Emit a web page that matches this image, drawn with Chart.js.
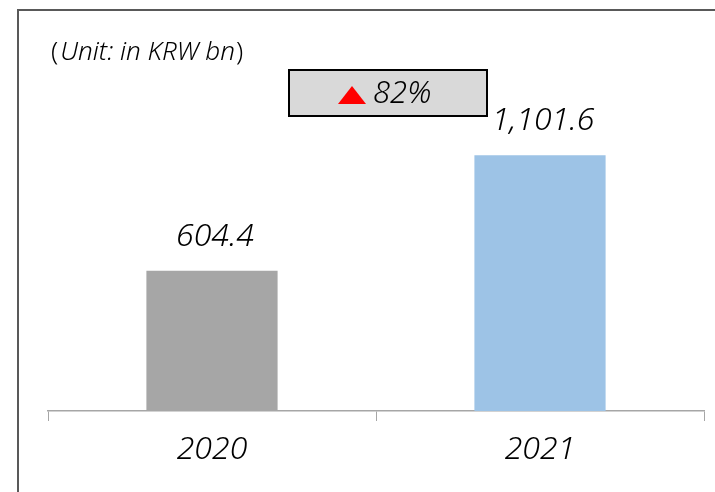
<!DOCTYPE html>
<html>
<head>
<meta charset="utf-8">
<script src="https://cdn.jsdelivr.net/npm/chart.js@4/dist/chart.umd.min.js"></script>
<style>
  body { margin: 0; background: #fff; }
  #wrap { width: 715px; height: 492px; position: relative; }
</style>
</head>
<body>
<div id="wrap"><canvas id="sales"></canvas></div>
<script>
const years = ['2020', '2021'];
const sales = [604.4, 1101.6];
const salesLabels = ['604.4', '1,101.6'];
const barColors = ['#a6a6a6', '#9dc3e6'];
const growthLabel = '82%';
const unitLabel = 'Unit: in KRW bn';

const fontFamily = "'Noto Sans', sans-serif";

// frame, unit note, growth box and value labels
const extras = {
  id: 'extras',
  afterDraw(chart) {
    const ctx = chart.ctx;
    ctx.save();

    // outer frame
    ctx.strokeStyle = '#595959';
    ctx.lineWidth = 2;
    ctx.strokeRect(18, 10, 800, 600);

    // unit note
    ctx.fillStyle = '#000';
    ctx.textBaseline = 'alphabetic';
    ctx.textAlign = 'left';
    ctx.font = '300 26px ' + fontFamily;
    let x = 51;
    ctx.fillText('(', x, 60);
    x += ctx.measureText('(').width + 2;
    ctx.font = 'italic 300 26px ' + fontFamily;
    ctx.fillText(unitLabel, x, 60);
    x += ctx.measureText(unitLabel).width + 1;
    ctx.font = '300 26px ' + fontFamily;
    ctx.fillText(')', x, 60);

    // growth box
    ctx.fillStyle = '#d9d9d9';
    ctx.fillRect(289, 70, 198, 46);
    ctx.strokeStyle = '#000';
    ctx.lineWidth = 2;
    ctx.strokeRect(289, 70, 198, 46);
    ctx.fillStyle = '#ff0000';
    ctx.beginPath();
    ctx.moveTo(338, 104);
    ctx.lineTo(366, 104);
    ctx.lineTo(352, 86);
    ctx.closePath();
    ctx.fill();
    ctx.fillStyle = '#000';
    ctx.font = 'italic 300 31px ' + fontFamily;
    ctx.fillText(growthLabel, 373, 103);

    // value labels
    const meta = chart.getDatasetMeta(0);
    ctx.textAlign = 'center';
    ctx.font = 'italic 300 32px ' + fontFamily;
    meta.data.forEach((bar, i) => {
      ctx.fillText(salesLabels[i], bar.x + 3, bar.y - 25);
    });

    ctx.restore();
  }
};

const ctx = document.getElementById('sales').getContext('2d');

const chart = new Chart(ctx, {
  type: 'bar',
  data: {
    labels: years,
    datasets: [{
      data: sales,
      backgroundColor: barColors,
      borderWidth: 0,
      categoryPercentage: 1,
      barPercentage: 0.4
    }]
  },
  options: {
    responsive: true,
    maintainAspectRatio: false,
    animation: false,
    layout: {
      padding: { top: 86, left: 48, right: 11, bottom: 0 }
    },
    plugins: {
      legend: { display: false },
      tooltip: { enabled: false }
    },
    scales: {
      x: {
        grid: {
          offset: true,
          drawOnChartArea: false,
          color: '#a6a6a6',
          tickLength: 10
        },
        border: { color: '#a6a6a6', width: 1.5 },
        ticks: {
          color: '#000',
          padding: 10,
          font: { family: fontFamily, size: 32, style: 'italic', weight: '300' }
        },
        afterFit(scale) {
          scale.height = 81;
        }
      },
      y: {
        display: false,
        min: 0,
        max: 1400
      }
    }
  },
  plugins: [extras]
});
</script>
</body>
</html>
